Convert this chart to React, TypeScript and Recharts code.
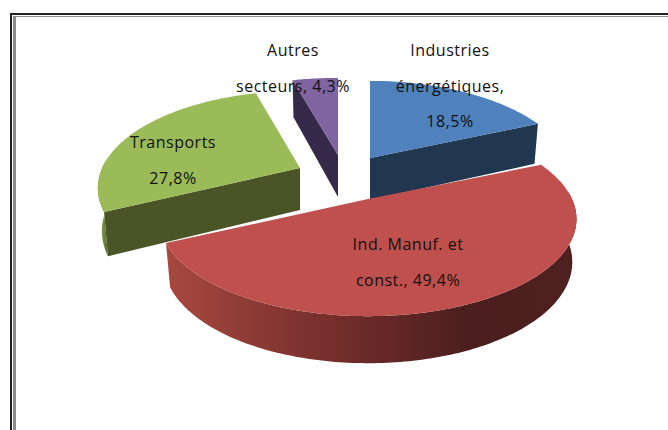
import { PieChart, Pie } from 'recharts'

const categories = ['Industries énergétiques', 'Ind. Manuf. et const.', 'Transports', 'Autres secteurs']
const shares = [18.5, 49.4, 27.8, 4.3]
const labelLines = [
  ['Industries', 'énergétiques,', '18,5%'],
  ['Ind. Manuf. et', 'const., 49,4%'],
  ['Transports', '27,8%'],
  ['Autres', 'secteurs, 4,3%'],
]

const topColors = ['#4f81bd', '#c0504d', '#9bbb59', '#8064a2']
const wallColors = ['#21374f', '#4a1e1e', '#4a5427', '#362a4a']
// how far each slice is pulled out of the pie, in px
const explode = [
  [2, -41],
  [0, 0],
  [-68, -31],
  [-30, -44],
]
// the side slices look a bit narrower than the big one
const widthScale = [0.97, 1, 0.97, 1]
const labelAnchors = [
  [450, 50],
  [408, 244],
  [173, 142],
  [293, 50],
]
const LINE_GAP = 35.5

const TILT = 0.456
const PERSPECTIVE = 0.206
const DEPTH = 42
const RAD = Math.PI / 180

const data = categories.map((name, i) => ({ name, value: shares[i], idx: i }))

function SliceShape(props: any) {
  const { cx, cy, outerRadius, startAngle, endAngle, payload } = props
  const i = payload.idx
  const ox = cx + explode[i][0]
  const oy = cy + explode[i][1]

  const top = (deg: number, r = 1) => {
    const u = r * Math.cos(deg * RAD)
    const v = r * Math.sin(deg * RAD)
    const k = 1 / (1 + PERSPECTIVE * v)
    return [ox + outerRadius * widthScale[i] * u * k, oy - outerRadius * TILT * v * k]
  }
  const bottom = (deg: number, r = 1) => {
    const [x, y] = top(deg, r)
    const v = r * Math.sin(deg * RAD)
    return [ox + (x - ox) * 0.98, y + DEPTH * (1 - 0.12 * v)]
  }
  const toPath = (pts: number[][]) =>
    pts.map((p, n) => `${n ? 'L' : 'M'}${p[0].toFixed(1)},${p[1].toFixed(1)}`).join('') + 'Z'

  const step = startAngle > endAngle ? -1 : 1
  const arc: number[] = []
  for (let a = startAngle; step * a < step * endAngle; a += step) arc.push(a)
  arc.push(endAngle)

  const facePts = [top(0, 0), ...arc.map((a) => top(a))]
  const front = arc.filter((a) => Math.sin(a * RAD) < 0.08)

  const radialWall = (a: number) =>
    toPath([top(0, 0), top(a), bottom(a), bottom(0, 0)])

  const gradId = `wall-${i}`
  return (
    <g>
      <defs>
        <linearGradient id={gradId} x1="0" y1="0" x2="1" y2="0">
          {i === 1 ? (
            <>
              <stop offset="0" stopColor="#a8483f" />
              <stop offset="0.41" stopColor="#742e2c" />
              <stop offset="0.74" stopColor="#4a1e1e" />
              <stop offset="1" stopColor="#4f2020" />
            </>
          ) : (
            <>
              <stop offset="0" stopColor={topColors[i]} />
              <stop offset="1" stopColor={wallColors[i]} />
            </>
          )}
        </linearGradient>
      </defs>
      {Math.cos(startAngle * RAD) < -0.01 && <path d={radialWall(startAngle)} fill={wallColors[i]} />}
      {Math.cos(endAngle * RAD) > 0.01 && <path d={radialWall(endAngle)} fill={wallColors[i]} />}
      {front.length > 1 && (
        <path
          d={toPath([...front.map((a) => top(a)), ...[...front].reverse().map((a) => bottom(a))])}
          fill={`url(#${gradId})`}
        />
      )}
      <path d={toPath(facePts)} fill={topColors[i]} />
    </g>
  )
}

function renderLabel(props: any) {
  const i = props.payload?.idx ?? props.index
  const [x, y] = labelAnchors[i]
  return (
    <g>
      {labelLines[i].map((line, n) => (
        <text
          key={line}
          x={x}
          y={y + n * LINE_GAP}
          textAnchor="middle"
          dominantBaseline="central"
          fontFamily="'Open Sans', sans-serif"
          fontSize={16}
          letterSpacing={0.5}
          fontWeight={500}
          fill="#111"
        >
          {line}
        </text>
      ))}
    </g>
  )
}

export default function App() {
  return (
    <div style={{ position: 'absolute', left: 0, top: 0, width: 668, height: 430, background: '#fff', overflow: 'hidden' }}>
      <div style={{ position: 'absolute', left: 10, top: 13, width: 658, height: 417, borderTop: '2px solid #222', borderLeft: '2px solid #222', boxSizing: 'border-box' }}>
        <div style={{ position: 'absolute', left: 1, top: 1, right: 0, bottom: 0, borderTop: '1px solid #8c8c8c', borderLeft: '3px solid #8c8c8c' }} />
      </div>
      <div style={{ position: 'absolute', left: 0, top: 0 }}>
        <PieChart width={668} height={430} margin={{ top: 0, right: 0, bottom: 0, left: 0 }}>
          <Pie
            data={data}
            dataKey="value"
            nameKey="name"
            cx={368}
            cy={199}
            innerRadius={0}
            outerRadius={204}
            startAngle={90}
            endAngle={-270}
            stroke="none"
            shape={SliceShape}
            label={renderLabel}
            labelLine={false}
            isAnimationActive={false}
          />
        </PieChart>
      </div>
    </div>
  )
}
